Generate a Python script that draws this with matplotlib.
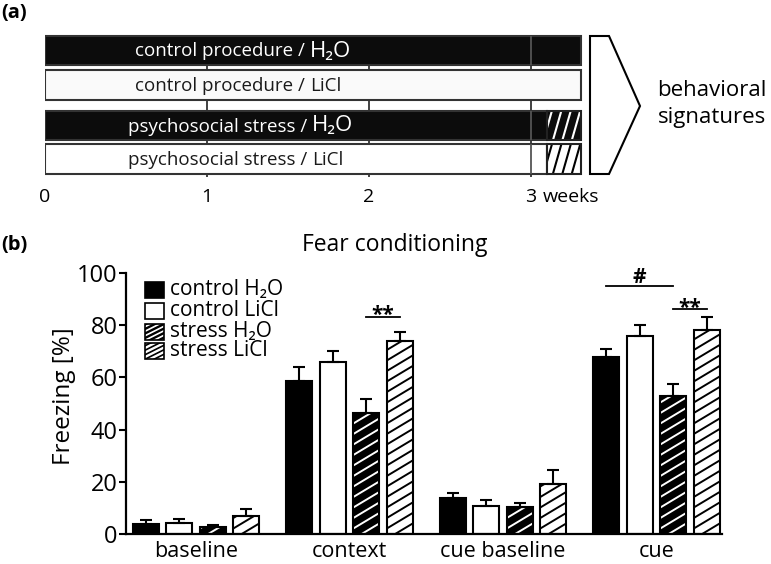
import matplotlib
matplotlib.use("Agg")
import matplotlib.pyplot as plt
import numpy as np
from matplotlib.patches import Rectangle, Polygon
from matplotlib.lines import Line2D
from matplotlib.transforms import IdentityTransform

plt.rcParams['font.family'] = ['Open Sans', 'Noto Sans', 'DejaVu Sans']

# ---------------- data ----------------
conditions = ["baseline", "context", "cue baseline", "cue"]
groups = ["control H\u2082O", "control LiCl", "stress H\u2082O", "stress LiCl"]
ctrl_h2o = [3.8, 58.6, 13.7, 67.9]
ctrl_licl = [4.3, 65.8, 10.9, 76.0]
stress_h2o = [2.6, 46.2, 10.2, 52.9]
stress_licl = [6.9, 74.0, 19.0, 78.2]
ctrl_h2o_sem = [1.6, 5.4, 1.9, 3.0]
ctrl_licl_sem = [1.4, 4.3, 2.1, 4.1]
stress_h2o_sem = [0.8, 5.7, 1.5, 4.7]
stress_licl_sem = [2.7, 3.5, 5.5, 5.1]
y_ticks = [0, 20, 40, 60, 80, 100]

timeline_procedure = ["control procedure /", "control procedure /",
                      "psychosocial stress /", "psychosocial stress /"]
timeline_drug = ["H\u2082O", "LiCl", "H\u2082O", "LiCl"]
week_ticks = [0, 1, 2, 3]
week_labels = ["0", "1", "2", "3"]
solid_end = [3.31, 3.31, 3.10, 3.10]   # weeks
test_end = 3.31                         # weeks

# ---------------- figure ----------------
W, H = 771, 564
fig = plt.figure(figsize=(W / 100, H / 100), dpi=100)


def fx(px):
    return px / W


def fy(py):
    return 1 - py / H


def add_hatch(ax, patch, slope, spacing, color, lw, z=2.5):
    ext = patch.get_window_extent()
    x0, y0, x1, y1 = ext.x0, ext.y0, ext.x1, ext.y1
    w = x1 - x0
    for c in np.arange(y0 - slope * w - spacing, y1 + spacing, spacing):
        ln = Line2D([x0 - 2, x1 + 2], [c - 2 * slope, c + slope * (w + 2)],
                    transform=IdentityTransform(), color=color, lw=lw,
                    solid_capstyle='butt', zorder=z)
        ax.add_artist(ln)
        ln.set_clip_path(patch)


# ---------------- panel (b) ----------------
ax = fig.add_axes([fx(126), fy(534), fx(722) - fx(126), fy(273) - fy(534)])
ax.set_xlim(-0.456, 3.427)
ax.set_ylim(0, 100)
x = np.arange(len(conditions))
step, width = 0.218, 0.169
series = [(ctrl_h2o, ctrl_h2o_sem, 'black', None),
          (ctrl_licl, ctrl_licl_sem, 'white', None),
          (stress_h2o, stress_h2o_sem, 'black', 'white'),
          (stress_licl, stress_licl_sem, 'white', 'black')]
for i, (m, s, fc, hc) in enumerate(series):
    pos = x + (i - 1.5) * step
    bars = ax.bar(pos, m, width, color=fc, edgecolor='none', zorder=1)
    ax.bar(pos, m, width, fill=False, edgecolor='black', lw=1.5, zorder=3)
    if hc:
        for b in bars:
            add_hatch(ax, b, 0.6, 10.5, hc, 1.4)
    ax.errorbar(pos, m, yerr=[np.zeros(len(m)), s], fmt='none', ecolor='black',
                elinewidth=1.5, capsize=4.5, capthick=1.5, zorder=3.5)

ax.spines['top'].set_visible(False)
ax.spines['right'].set_visible(False)
ax.spines['left'].set_linewidth(1.6)
ax.spines['bottom'].set_linewidth(1.6)
ax.set_yticks(y_ticks)
ax.tick_params(axis='y', labelsize=17, length=5, width=1.5, pad=1)
ax.set_xticks(x, conditions)
ax.tick_params(axis='x', labelsize=15.5, length=0, pad=5)


def sig(x1, x2, y, ytext, label):
    ax.plot([x1, x2], [y, y], color='black', lw=1.3, clip_on=False)
    ax.text((x1 + x2) / 2, ytext, label, ha='center', va='baseline',
            fontsize=15, fontweight='bold', clip_on=False)


sig(1 + 0.5 * step, 1 + 1.5 * step, 83.3, 81.6, "**")
sig(3 - 1.5 * step, 3 + 0.5 * step, 95.0, 96.3, "#")
sig(3 + 0.5 * step, 3 + 1.5 * step, 86.2, 84.5, "**")

# ---------------- panel (a) ----------------
axa = fig.add_axes([fx(45), fy(220), fx(771) - fx(45), fy(0) - fy(220)])
axa.set_xlim(0, (771 - 45) / 162)
axa.set_ylim(220, 0)
axa.axis('off')
row_y = [50.5, 85, 125.5, 159]
row_h = 29.5
row_fill = ['#0c0c0c', '#fafafa', '#0c0c0c', '#ffffff']
row_hatch = [None, None, 'white', 'black']
row_text = ['white', '#1a1a1a', 'white', '#1a1a1a']
row_text_x = [(135 - 45) / 162, (135 - 45) / 162, (127.7 - 45) / 162, (127.7 - 45) / 162]

axa.vlines(week_ticks[1:], 35, 177, color='#333333', lw=1.3, zorder=0)
for i in range(4):
    axa.barh(row_y[i], solid_end[i], left=0, height=row_h, color=row_fill[i],
             edgecolor='#333333', lw=1.5, zorder=1)
    if row_hatch[i]:
        hb = axa.barh(row_y[i], test_end - solid_end[i], left=solid_end[i],
                      height=row_h, color=row_fill[i], edgecolor='none', zorder=1)
        add_hatch(axa, hb[0], 3.5, 33, row_hatch[i], 1.5)
        axa.barh(row_y[i], test_end - solid_end[i], left=solid_end[i],
                 height=row_h, fill=False, edgecolor='#222222', lw=1.5, zorder=3)
    if i != 1:
        axa.vlines(3, row_y[i] - row_h / 2, row_y[i] + row_h / 2,
                   color='#555555', lw=1.3, zorder=2)
    big = i in (0, 2)
    t1 = axa.text(row_text_x[i], row_y[i] + 6, timeline_procedure[i], ha='left',
                  va='baseline', fontsize=13.5, color=row_text[i], zorder=4)
    axa.annotate(timeline_drug[i], xy=(1, row_y[i] + 6), xycoords=(t1, 'data'),
                 xytext=(5, 0), textcoords='offset pixels', ha='left', va='baseline',
                 fontsize=16 if big else 13.5, color=row_text[i], zorder=4)

for w, lab in zip(week_ticks, week_labels):
    axa.text(w, 197, lab, ha='center', va='center', fontsize=14)
axa.annotate("weeks", xy=(week_ticks[-1], 197), xytext=(12, 0),
             textcoords='offset pixels', ha='left', va='center', fontsize=14)

# ---------------- overlay (layout texts / shapes) ----------------
ov = fig.add_axes([0, 0, 1, 1], zorder=5)
ov.set_xlim(0, W)
ov.set_ylim(H, 0)
ov.axis('off')

ov.add_patch(Polygon([(590, 36), (609, 36), (640, 106), (609, 174), (590, 174)],
                     closed=True, fc='white', ec='black', lw=1.5))
ov.text(712, 90, "behavioral", ha='center', va='center', fontsize=16)
ov.text(712, 118, "signatures", ha='center', va='center', fontsize=16)
ov.text(1, 13, "(a)", ha='left', va='center', fontsize=14.5, fontweight='bold')
ov.text(1, 245, "(b)", ha='left', va='center', fontsize=14.5, fontweight='bold')
ov.text(395, 245, "Fear conditioning", ha='center', va='center', fontsize=16.5)
ov.text(64, 396, "Freezing [%]", ha='center', va='center', rotation=90, fontsize=17.5)

# legend
leg_y = [290, 311, 332, 351]
leg_fill = ['black', 'white', 'black', 'white']
leg_hatch = [None, None, 'white', 'black']
for i, lab in enumerate(groups):
    r = Rectangle((144.5, leg_y[i] - 8), 19, 16, fc=leg_fill[i], ec='none')
    ov.add_patch(r)
    if leg_hatch[i]:
        add_hatch(ov, r, 0.5, 4.5, leg_hatch[i], 1.2)
    ov.add_patch(Rectangle((144.5, leg_y[i] - 8), 19, 16, fill=False, ec='black',
                           lw=1.2, zorder=3))
    ov.text(170, leg_y[i] - 1, lab, ha='left', va='center', fontsize=15)

fig.savefig("out.png", dpi=100)
